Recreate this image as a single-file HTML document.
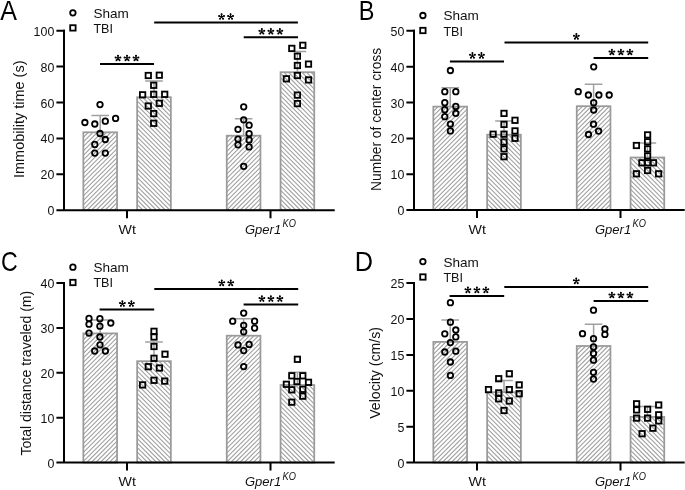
<!DOCTYPE html><html><head><meta charset="utf-8"><style>html,body{margin:0;padding:0;background:#fff;}svg{display:block;will-change:transform;}</style></head><body>
<svg width="685" height="490" viewBox="0 0 685 490" font-family='"Liberation Sans", sans-serif'>
<rect width="685" height="490" fill="#fff"/>
<clipPath id="c1"><rect x="83.35" y="132.3" width="33.7" height="77.9"/></clipPath>
<rect x="83.35" y="132.3" width="33.7" height="77.9" fill="#fff"/>
<path clip-path="url(#c1)" d="M-0.45 212.2L81.45 130.3M4.05 212.2L85.95 130.3M8.55 212.2L90.45 130.3M13.05 212.2L94.95 130.3M17.55 212.2L99.45 130.3M22.05 212.2L103.95 130.3M26.55 212.2L108.45 130.3M31.05 212.2L112.95 130.3M35.55 212.2L117.45 130.3M40.05 212.2L121.95 130.3M44.55 212.2L126.45 130.3M49.05 212.2L130.95 130.3M53.55 212.2L135.45 130.3M58.05 212.2L139.95 130.3M62.55 212.2L144.45 130.3M67.05 212.2L148.95 130.3M71.55 212.2L153.45 130.3M76.05 212.2L157.95 130.3M80.55 212.2L162.45 130.3M85.05 212.2L166.95 130.3M89.55 212.2L171.45 130.3M94.05 212.2L175.95 130.3M98.55 212.2L180.45 130.3M103.05 212.2L184.95 130.3M107.55 212.2L189.45 130.3M112.05 212.2L193.95 130.3M116.55 212.2L198.45 130.3" stroke="#a0a0a0" stroke-width="1.2" fill="none"/>
<rect x="83.35" y="132.3" width="33.7" height="77.9" fill="none" stroke="#9a9a9a" stroke-width="1.75"/>
<path d="M100.2 132.3L100.2 115.5M91.4 115.5L109 115.5" stroke="#a0a0a0" stroke-width="1.5" fill="none"/>
<clipPath id="c2"><rect x="137.15" y="97.2" width="33.7" height="113"/></clipPath>
<rect x="137.15" y="97.2" width="33.7" height="113" fill="#fff"/>
<path clip-path="url(#c2)" d="M18.95 95.2L135.95 212.2M23.45 95.2L140.45 212.2M27.95 95.2L144.95 212.2M32.45 95.2L149.45 212.2M36.95 95.2L153.95 212.2M41.45 95.2L158.45 212.2M45.95 95.2L162.95 212.2M50.45 95.2L167.45 212.2M54.95 95.2L171.95 212.2M59.45 95.2L176.45 212.2M63.95 95.2L180.95 212.2M68.45 95.2L185.45 212.2M72.95 95.2L189.95 212.2M77.45 95.2L194.45 212.2M81.95 95.2L198.95 212.2M86.45 95.2L203.45 212.2M90.95 95.2L207.95 212.2M95.45 95.2L212.45 212.2M99.95 95.2L216.95 212.2M104.45 95.2L221.45 212.2M108.95 95.2L225.95 212.2M113.45 95.2L230.45 212.2M117.95 95.2L234.95 212.2M122.45 95.2L239.45 212.2M126.95 95.2L243.95 212.2M131.45 95.2L248.45 212.2M135.95 95.2L252.95 212.2M140.45 95.2L257.45 212.2M144.95 95.2L261.95 212.2M149.45 95.2L266.45 212.2M153.95 95.2L270.95 212.2M158.45 95.2L275.45 212.2M162.95 95.2L279.95 212.2M167.45 95.2L284.45 212.2M171.95 95.2L288.95 212.2" stroke="#a0a0a0" stroke-width="1.2" fill="none"/>
<rect x="137.15" y="97.2" width="33.7" height="113" fill="none" stroke="#9a9a9a" stroke-width="1.75"/>
<path d="M154 97.2L154 80.9M145.2 80.9L162.8 80.9" stroke="#a0a0a0" stroke-width="1.5" fill="none"/>
<clipPath id="c3"><rect x="226.75" y="135.7" width="33.7" height="74.5"/></clipPath>
<rect x="226.75" y="135.7" width="33.7" height="74.5" fill="#fff"/>
<path clip-path="url(#c3)" d="M148.05 212.2L226.55 133.7M152.55 212.2L231.05 133.7M157.05 212.2L235.55 133.7M161.55 212.2L240.05 133.7M166.05 212.2L244.55 133.7M170.55 212.2L249.05 133.7M175.05 212.2L253.55 133.7M179.55 212.2L258.05 133.7M184.05 212.2L262.55 133.7M188.55 212.2L267.05 133.7M193.05 212.2L271.55 133.7M197.55 212.2L276.05 133.7M202.05 212.2L280.55 133.7M206.55 212.2L285.05 133.7M211.05 212.2L289.55 133.7M215.55 212.2L294.05 133.7M220.05 212.2L298.55 133.7M224.55 212.2L303.05 133.7M229.05 212.2L307.55 133.7M233.55 212.2L312.05 133.7M238.05 212.2L316.55 133.7M242.55 212.2L321.05 133.7M247.05 212.2L325.55 133.7M251.55 212.2L330.05 133.7M256.05 212.2L334.55 133.7M260.55 212.2L339.05 133.7" stroke="#a0a0a0" stroke-width="1.2" fill="none"/>
<rect x="226.75" y="135.7" width="33.7" height="74.5" fill="none" stroke="#9a9a9a" stroke-width="1.75"/>
<path d="M243.6 135.7L243.6 118.7M234.8 118.7L252.4 118.7" stroke="#a0a0a0" stroke-width="1.5" fill="none"/>
<clipPath id="c4"><rect x="280.55" y="72.2" width="33.7" height="138"/></clipPath>
<rect x="280.55" y="72.2" width="33.7" height="138" fill="#fff"/>
<path clip-path="url(#c4)" d="M137.95 70.2L279.95 212.2M142.45 70.2L284.45 212.2M146.95 70.2L288.95 212.2M151.45 70.2L293.45 212.2M155.95 70.2L297.95 212.2M160.45 70.2L302.45 212.2M164.95 70.2L306.95 212.2M169.45 70.2L311.45 212.2M173.95 70.2L315.95 212.2M178.45 70.2L320.45 212.2M182.95 70.2L324.95 212.2M187.45 70.2L329.45 212.2M191.95 70.2L333.95 212.2M196.45 70.2L338.45 212.2M200.95 70.2L342.95 212.2M205.45 70.2L347.45 212.2M209.95 70.2L351.95 212.2M214.45 70.2L356.45 212.2M218.95 70.2L360.95 212.2M223.45 70.2L365.45 212.2M227.95 70.2L369.95 212.2M232.45 70.2L374.45 212.2M236.95 70.2L378.95 212.2M241.45 70.2L383.45 212.2M245.95 70.2L387.95 212.2M250.45 70.2L392.45 212.2M254.95 70.2L396.95 212.2M259.45 70.2L401.45 212.2M263.95 70.2L405.95 212.2M268.45 70.2L410.45 212.2M272.95 70.2L414.95 212.2M277.45 70.2L419.45 212.2M281.95 70.2L423.95 212.2M286.45 70.2L428.45 212.2M290.95 70.2L432.95 212.2M295.45 70.2L437.45 212.2M299.95 70.2L441.95 212.2M304.45 70.2L446.45 212.2M308.95 70.2L450.95 212.2M313.45 70.2L455.45 212.2" stroke="#a0a0a0" stroke-width="1.2" fill="none"/>
<rect x="280.55" y="72.2" width="33.7" height="138" fill="none" stroke="#9a9a9a" stroke-width="1.75"/>
<path d="M297.4 72.2L297.4 51.5M288.6 51.5L306.2 51.5" stroke="#a0a0a0" stroke-width="1.5" fill="none"/>
<path d="M64 29.7L64 210.2" stroke="#000" stroke-width="2" fill="none"/>
<path d="M56.4 210.2L334.7 210.2" stroke="#000" stroke-width="2" fill="none"/>
<path d="M56.4 174.3L65 174.3M56.4 138.4L65 138.4M56.4 102.5L65 102.5M56.4 66.6L65 66.6M56.4 30.7L65 30.7M127 210.2L127 218.2M270.5 210.2L270.5 218.2" stroke="#000" stroke-width="2" fill="none"/>
<text x="54.3" y="215.2" font-size="12.4" text-anchor="end" fill="#111">0</text>
<text x="54.3" y="179.3" font-size="12.4" text-anchor="end" fill="#111">20</text>
<text x="54.3" y="143.4" font-size="12.4" text-anchor="end" fill="#111">40</text>
<text x="54.3" y="107.5" font-size="12.4" text-anchor="end" fill="#111">60</text>
<text x="54.3" y="71.6" font-size="12.4" text-anchor="end" fill="#111">80</text>
<text x="54.3" y="35.7" font-size="12.4" text-anchor="end" fill="#111">100</text>
<text x="127.3" y="233.7" font-size="13" text-anchor="middle" textLength="17.4" lengthAdjust="spacingAndGlyphs" fill="#111">Wt</text>
<text x="245" y="233.7" font-size="13" font-style="italic" fill="#111">Gper1</text>
<text x="282.5" y="227.3" font-size="10" font-style="italic" textLength="13.4" lengthAdjust="spacingAndGlyphs" fill="#111">KO</text>
<circle cx="100" cy="104.6" r="2.75" fill="none" stroke="#000" stroke-width="1.8"/>
<circle cx="84.9" cy="122.5" r="2.75" fill="none" stroke="#000" stroke-width="1.8"/>
<circle cx="94.8" cy="124" r="2.75" fill="none" stroke="#000" stroke-width="1.8"/>
<circle cx="105.3" cy="121.2" r="2.75" fill="none" stroke="#000" stroke-width="1.8"/>
<circle cx="115.6" cy="118.4" r="2.75" fill="none" stroke="#000" stroke-width="1.8"/>
<circle cx="100" cy="133.5" r="2.75" fill="none" stroke="#000" stroke-width="1.8"/>
<circle cx="105.3" cy="139.5" r="2.75" fill="none" stroke="#000" stroke-width="1.8"/>
<circle cx="94.8" cy="144.4" r="2.75" fill="none" stroke="#000" stroke-width="1.8"/>
<circle cx="94.8" cy="153.1" r="2.75" fill="none" stroke="#000" stroke-width="1.8"/>
<circle cx="105.3" cy="153.1" r="2.75" fill="none" stroke="#000" stroke-width="1.8"/>
<rect x="145.6" y="72.8" width="5.4" height="5.4" fill="none" stroke="#000" stroke-width="1.8"/>
<rect x="156.6" y="72.5" width="5.4" height="5.4" fill="none" stroke="#000" stroke-width="1.8"/>
<rect x="151" y="82.6" width="5.4" height="5.4" fill="none" stroke="#000" stroke-width="1.8"/>
<rect x="139.9" y="92.1" width="5.4" height="5.4" fill="none" stroke="#000" stroke-width="1.8"/>
<rect x="151" y="91.6" width="5.4" height="5.4" fill="none" stroke="#000" stroke-width="1.8"/>
<rect x="162" y="91.6" width="5.4" height="5.4" fill="none" stroke="#000" stroke-width="1.8"/>
<rect x="145.6" y="103.3" width="5.4" height="5.4" fill="none" stroke="#000" stroke-width="1.8"/>
<rect x="156.6" y="100.6" width="5.4" height="5.4" fill="none" stroke="#000" stroke-width="1.8"/>
<rect x="151" y="110.9" width="5.4" height="5.4" fill="none" stroke="#000" stroke-width="1.8"/>
<rect x="151" y="120.6" width="5.4" height="5.4" fill="none" stroke="#000" stroke-width="1.8"/>
<circle cx="243.7" cy="106.8" r="2.75" fill="none" stroke="#000" stroke-width="1.8"/>
<circle cx="243.7" cy="119.8" r="2.75" fill="none" stroke="#000" stroke-width="1.8"/>
<circle cx="249.1" cy="125.2" r="2.75" fill="none" stroke="#000" stroke-width="1.8"/>
<circle cx="238" cy="129.3" r="2.75" fill="none" stroke="#000" stroke-width="1.8"/>
<circle cx="249.1" cy="133.7" r="2.75" fill="none" stroke="#000" stroke-width="1.8"/>
<circle cx="238" cy="139.1" r="2.75" fill="none" stroke="#000" stroke-width="1.8"/>
<circle cx="249.1" cy="139.9" r="2.75" fill="none" stroke="#000" stroke-width="1.8"/>
<circle cx="238" cy="144.8" r="2.75" fill="none" stroke="#000" stroke-width="1.8"/>
<circle cx="249.1" cy="146.9" r="2.75" fill="none" stroke="#000" stroke-width="1.8"/>
<circle cx="243.7" cy="166.3" r="2.75" fill="none" stroke="#000" stroke-width="1.8"/>
<rect x="289.1" y="45.7" width="5.4" height="5.4" fill="none" stroke="#000" stroke-width="1.8"/>
<rect x="300.1" y="42.6" width="5.4" height="5.4" fill="none" stroke="#000" stroke-width="1.8"/>
<rect x="294.7" y="53.5" width="5.4" height="5.4" fill="none" stroke="#000" stroke-width="1.8"/>
<rect x="294.7" y="62.8" width="5.4" height="5.4" fill="none" stroke="#000" stroke-width="1.8"/>
<rect x="305.8" y="61.4" width="5.4" height="5.4" fill="none" stroke="#000" stroke-width="1.8"/>
<rect x="283.7" y="76.1" width="5.4" height="5.4" fill="none" stroke="#000" stroke-width="1.8"/>
<rect x="294.7" y="72.8" width="5.4" height="5.4" fill="none" stroke="#000" stroke-width="1.8"/>
<rect x="305.8" y="77.2" width="5.4" height="5.4" fill="none" stroke="#000" stroke-width="1.8"/>
<rect x="294.7" y="92.4" width="5.4" height="5.4" fill="none" stroke="#000" stroke-width="1.8"/>
<rect x="294.7" y="100.9" width="5.4" height="5.4" fill="none" stroke="#000" stroke-width="1.8"/>
<path d="M100 64L154 64" stroke="#000" stroke-width="2" fill="none"/>
<path d="M118 58.2L118 55.65M118 58.2L120.43 57.41M118 58.2L119.5 60.26M118 58.2L116.5 60.26M118 58.2L115.57 57.41" stroke="#000" stroke-width="1.1" stroke-linecap="round" fill="none"/><circle cx="118" cy="55.65" r="1.0"/><circle cx="120.43" cy="57.41" r="1.0"/><circle cx="119.5" cy="60.26" r="1.0"/><circle cx="116.5" cy="60.26" r="1.0"/><circle cx="115.57" cy="57.41" r="1.0"/>
<path d="M127 58.2L127 55.65M127 58.2L129.43 57.41M127 58.2L128.5 60.26M127 58.2L125.5 60.26M127 58.2L124.57 57.41" stroke="#000" stroke-width="1.1" stroke-linecap="round" fill="none"/><circle cx="127" cy="55.65" r="1.0"/><circle cx="129.43" cy="57.41" r="1.0"/><circle cx="128.5" cy="60.26" r="1.0"/><circle cx="125.5" cy="60.26" r="1.0"/><circle cx="124.57" cy="57.41" r="1.0"/>
<path d="M136 58.2L136 55.65M136 58.2L138.43 57.41M136 58.2L137.5 60.26M136 58.2L134.5 60.26M136 58.2L133.57 57.41" stroke="#000" stroke-width="1.1" stroke-linecap="round" fill="none"/><circle cx="136" cy="55.65" r="1.0"/><circle cx="138.43" cy="57.41" r="1.0"/><circle cx="137.5" cy="60.26" r="1.0"/><circle cx="134.5" cy="60.26" r="1.0"/><circle cx="133.57" cy="57.41" r="1.0"/>
<path d="M154.2 22.5L297.9 22.5" stroke="#000" stroke-width="2" fill="none"/>
<path d="M221.55 16.7L221.55 14.15M221.55 16.7L223.98 15.91M221.55 16.7L223.05 18.76M221.55 16.7L220.05 18.76M221.55 16.7L219.12 15.91" stroke="#000" stroke-width="1.1" stroke-linecap="round" fill="none"/><circle cx="221.55" cy="14.15" r="1.0"/><circle cx="223.98" cy="15.91" r="1.0"/><circle cx="223.05" cy="18.76" r="1.0"/><circle cx="220.05" cy="18.76" r="1.0"/><circle cx="219.12" cy="15.91" r="1.0"/>
<path d="M230.55 16.7L230.55 14.15M230.55 16.7L232.98 15.91M230.55 16.7L232.05 18.76M230.55 16.7L229.05 18.76M230.55 16.7L228.12 15.91" stroke="#000" stroke-width="1.1" stroke-linecap="round" fill="none"/><circle cx="230.55" cy="14.15" r="1.0"/><circle cx="232.98" cy="15.91" r="1.0"/><circle cx="232.05" cy="18.76" r="1.0"/><circle cx="229.05" cy="18.76" r="1.0"/><circle cx="228.12" cy="15.91" r="1.0"/>
<path d="M243.7 37.3L298 37.3" stroke="#000" stroke-width="2" fill="none"/>
<path d="M261.85 31.5L261.85 28.95M261.85 31.5L264.28 30.71M261.85 31.5L263.35 33.56M261.85 31.5L260.35 33.56M261.85 31.5L259.42 30.71" stroke="#000" stroke-width="1.1" stroke-linecap="round" fill="none"/><circle cx="261.85" cy="28.95" r="1.0"/><circle cx="264.28" cy="30.71" r="1.0"/><circle cx="263.35" cy="33.56" r="1.0"/><circle cx="260.35" cy="33.56" r="1.0"/><circle cx="259.42" cy="30.71" r="1.0"/>
<path d="M270.85 31.5L270.85 28.95M270.85 31.5L273.28 30.71M270.85 31.5L272.35 33.56M270.85 31.5L269.35 33.56M270.85 31.5L268.42 30.71" stroke="#000" stroke-width="1.1" stroke-linecap="round" fill="none"/><circle cx="270.85" cy="28.95" r="1.0"/><circle cx="273.28" cy="30.71" r="1.0"/><circle cx="272.35" cy="33.56" r="1.0"/><circle cx="269.35" cy="33.56" r="1.0"/><circle cx="268.42" cy="30.71" r="1.0"/>
<path d="M279.85 31.5L279.85 28.95M279.85 31.5L282.28 30.71M279.85 31.5L281.35 33.56M279.85 31.5L278.35 33.56M279.85 31.5L277.42 30.71" stroke="#000" stroke-width="1.1" stroke-linecap="round" fill="none"/><circle cx="279.85" cy="28.95" r="1.0"/><circle cx="282.28" cy="30.71" r="1.0"/><circle cx="281.35" cy="33.56" r="1.0"/><circle cx="278.35" cy="33.56" r="1.0"/><circle cx="277.42" cy="30.71" r="1.0"/>
<circle cx="72.9" cy="12.8" r="2.75" fill="none" stroke="#000" stroke-width="1.8"/>
<rect x="70.2" y="25.2" width="5.4" height="5.4" fill="none" stroke="#000" stroke-width="1.8"/>
<text x="93.4" y="17.9" font-size="13.2" textLength="35.4" lengthAdjust="spacingAndGlyphs" fill="#111">Sham</text>
<text x="93.4" y="33.2" font-size="13.2" textLength="19.6" lengthAdjust="spacingAndGlyphs" fill="#111">TBI</text>
<text transform="translate(0.3 19.6) scale(0.895 1)" font-size="28" fill="#000">A</text>
<text transform="translate(23.6 119.25) rotate(-90)" x="0" y="0" font-size="14" text-anchor="middle" textLength="117.5" lengthAdjust="spacingAndGlyphs" fill="#111">Immobility time (s)</text>
<clipPath id="c5"><rect x="433.35" y="106.6" width="33.7" height="103.5"/></clipPath>
<rect x="433.35" y="106.6" width="33.7" height="103.5" fill="#fff"/>
<path clip-path="url(#c5)" d="M323.65 212.1L431.15 104.6M328.15 212.1L435.65 104.6M332.65 212.1L440.15 104.6M337.15 212.1L444.65 104.6M341.65 212.1L449.15 104.6M346.15 212.1L453.65 104.6M350.65 212.1L458.15 104.6M355.15 212.1L462.65 104.6M359.65 212.1L467.15 104.6M364.15 212.1L471.65 104.6M368.65 212.1L476.15 104.6M373.15 212.1L480.65 104.6M377.65 212.1L485.15 104.6M382.15 212.1L489.65 104.6M386.65 212.1L494.15 104.6M391.15 212.1L498.65 104.6M395.65 212.1L503.15 104.6M400.15 212.1L507.65 104.6M404.65 212.1L512.15 104.6M409.15 212.1L516.65 104.6M413.65 212.1L521.15 104.6M418.15 212.1L525.65 104.6M422.65 212.1L530.15 104.6M427.15 212.1L534.65 104.6M431.65 212.1L539.15 104.6M436.15 212.1L543.65 104.6M440.65 212.1L548.15 104.6M445.15 212.1L552.65 104.6M449.65 212.1L557.15 104.6M454.15 212.1L561.65 104.6M458.65 212.1L566.15 104.6M463.15 212.1L570.65 104.6M467.65 212.1L575.15 104.6" stroke="#a0a0a0" stroke-width="1.2" fill="none"/>
<rect x="433.35" y="106.6" width="33.7" height="103.5" fill="none" stroke="#9a9a9a" stroke-width="1.75"/>
<path d="M450.2 106.6L450.2 87.7M441.4 87.7L459 87.7" stroke="#a0a0a0" stroke-width="1.5" fill="none"/>
<clipPath id="c6"><rect x="487.15" y="134.7" width="33.7" height="75.4"/></clipPath>
<rect x="487.15" y="134.7" width="33.7" height="75.4" fill="#fff"/>
<path clip-path="url(#c6)" d="M407.45 132.7L486.85 212.1M411.95 132.7L491.35 212.1M416.45 132.7L495.85 212.1M420.95 132.7L500.35 212.1M425.45 132.7L504.85 212.1M429.95 132.7L509.35 212.1M434.45 132.7L513.85 212.1M438.95 132.7L518.35 212.1M443.45 132.7L522.85 212.1M447.95 132.7L527.35 212.1M452.45 132.7L531.85 212.1M456.95 132.7L536.35 212.1M461.45 132.7L540.85 212.1M465.95 132.7L545.35 212.1M470.45 132.7L549.85 212.1M474.95 132.7L554.35 212.1M479.45 132.7L558.85 212.1M483.95 132.7L563.35 212.1M488.45 132.7L567.85 212.1M492.95 132.7L572.35 212.1M497.45 132.7L576.85 212.1M501.95 132.7L581.35 212.1M506.45 132.7L585.85 212.1M510.95 132.7L590.35 212.1M515.45 132.7L594.85 212.1M519.95 132.7L599.35 212.1" stroke="#a0a0a0" stroke-width="1.2" fill="none"/>
<rect x="487.15" y="134.7" width="33.7" height="75.4" fill="none" stroke="#9a9a9a" stroke-width="1.75"/>
<path d="M504 134.7L504 121.1M495.2 121.1L512.8 121.1" stroke="#a0a0a0" stroke-width="1.5" fill="none"/>
<clipPath id="c7"><rect x="576.75" y="106.2" width="33.7" height="103.9"/></clipPath>
<rect x="576.75" y="106.2" width="33.7" height="103.9" fill="#fff"/>
<path clip-path="url(#c7)" d="M467.65 212.1L575.55 104.2M472.15 212.1L580.05 104.2M476.65 212.1L584.55 104.2M481.15 212.1L589.05 104.2M485.65 212.1L593.55 104.2M490.15 212.1L598.05 104.2M494.65 212.1L602.55 104.2M499.15 212.1L607.05 104.2M503.65 212.1L611.55 104.2M508.15 212.1L616.05 104.2M512.65 212.1L620.55 104.2M517.15 212.1L625.05 104.2M521.65 212.1L629.55 104.2M526.15 212.1L634.05 104.2M530.65 212.1L638.55 104.2M535.15 212.1L643.05 104.2M539.65 212.1L647.55 104.2M544.15 212.1L652.05 104.2M548.65 212.1L656.55 104.2M553.15 212.1L661.05 104.2M557.65 212.1L665.55 104.2M562.15 212.1L670.05 104.2M566.65 212.1L674.55 104.2M571.15 212.1L679.05 104.2M575.65 212.1L683.55 104.2M580.15 212.1L688.05 104.2M584.65 212.1L692.55 104.2M589.15 212.1L697.05 104.2M593.65 212.1L701.55 104.2M598.15 212.1L706.05 104.2M602.65 212.1L710.55 104.2M607.15 212.1L715.05 104.2M611.65 212.1L719.55 104.2" stroke="#a0a0a0" stroke-width="1.2" fill="none"/>
<rect x="576.75" y="106.2" width="33.7" height="103.9" fill="none" stroke="#9a9a9a" stroke-width="1.75"/>
<path d="M593.6 106.2L593.6 84.3M584.8 84.3L602.4 84.3" stroke="#a0a0a0" stroke-width="1.5" fill="none"/>
<clipPath id="c8"><rect x="630.55" y="157.5" width="33.7" height="52.6"/></clipPath>
<rect x="630.55" y="157.5" width="33.7" height="52.6" fill="#fff"/>
<path clip-path="url(#c8)" d="M574.25 155.5L630.85 212.1M578.75 155.5L635.35 212.1M583.25 155.5L639.85 212.1M587.75 155.5L644.35 212.1M592.25 155.5L648.85 212.1M596.75 155.5L653.35 212.1M601.25 155.5L657.85 212.1M605.75 155.5L662.35 212.1M610.25 155.5L666.85 212.1M614.75 155.5L671.35 212.1M619.25 155.5L675.85 212.1M623.75 155.5L680.35 212.1M628.25 155.5L684.85 212.1M632.75 155.5L689.35 212.1M637.25 155.5L693.85 212.1M641.75 155.5L698.35 212.1M646.25 155.5L702.85 212.1M650.75 155.5L707.35 212.1M655.25 155.5L711.85 212.1M659.75 155.5L716.35 212.1M664.25 155.5L720.85 212.1" stroke="#a0a0a0" stroke-width="1.2" fill="none"/>
<rect x="630.55" y="157.5" width="33.7" height="52.6" fill="none" stroke="#9a9a9a" stroke-width="1.75"/>
<path d="M647.4 157.5L647.4 143M638.6 143L656.2 143" stroke="#a0a0a0" stroke-width="1.5" fill="none"/>
<path d="M414 29.8L414 210.1" stroke="#000" stroke-width="2" fill="none"/>
<path d="M406.4 210.1L684.7 210.1" stroke="#000" stroke-width="2" fill="none"/>
<path d="M406.4 174.24L415 174.24M406.4 138.38L415 138.38M406.4 102.52L415 102.52M406.4 66.66L415 66.66M406.4 30.8L415 30.8M477 210.1L477 218.1M620.5 210.1L620.5 218.1" stroke="#000" stroke-width="2" fill="none"/>
<text x="404.3" y="215.1" font-size="12.4" text-anchor="end" fill="#111">0</text>
<text x="404.3" y="179.24" font-size="12.4" text-anchor="end" fill="#111">10</text>
<text x="404.3" y="143.38" font-size="12.4" text-anchor="end" fill="#111">20</text>
<text x="404.3" y="107.52" font-size="12.4" text-anchor="end" fill="#111">30</text>
<text x="404.3" y="71.66" font-size="12.4" text-anchor="end" fill="#111">40</text>
<text x="404.3" y="35.8" font-size="12.4" text-anchor="end" fill="#111">50</text>
<text x="477.3" y="233.6" font-size="13" text-anchor="middle" textLength="17.4" lengthAdjust="spacingAndGlyphs" fill="#111">Wt</text>
<text x="595" y="233.6" font-size="13" font-style="italic" fill="#111">Gper1</text>
<text x="632.5" y="227.2" font-size="10" font-style="italic" textLength="13.4" lengthAdjust="spacingAndGlyphs" fill="#111">KO</text>
<circle cx="450.4" cy="70.5" r="2.75" fill="none" stroke="#000" stroke-width="1.8"/>
<circle cx="444.8" cy="91.7" r="2.75" fill="none" stroke="#000" stroke-width="1.8"/>
<circle cx="455.8" cy="91.7" r="2.75" fill="none" stroke="#000" stroke-width="1.8"/>
<circle cx="444.8" cy="102.7" r="2.75" fill="none" stroke="#000" stroke-width="1.8"/>
<circle cx="444.8" cy="109.7" r="2.75" fill="none" stroke="#000" stroke-width="1.8"/>
<circle cx="455.8" cy="106.4" r="2.75" fill="none" stroke="#000" stroke-width="1.8"/>
<circle cx="455.8" cy="113.3" r="2.75" fill="none" stroke="#000" stroke-width="1.8"/>
<circle cx="444.8" cy="116.7" r="2.75" fill="none" stroke="#000" stroke-width="1.8"/>
<circle cx="450.4" cy="124.1" r="2.75" fill="none" stroke="#000" stroke-width="1.8"/>
<circle cx="450.4" cy="130.9" r="2.75" fill="none" stroke="#000" stroke-width="1.8"/>
<rect x="501.3" y="110.7" width="5.4" height="5.4" fill="none" stroke="#000" stroke-width="1.8"/>
<rect x="512.3" y="117.6" width="5.4" height="5.4" fill="none" stroke="#000" stroke-width="1.8"/>
<rect x="501.3" y="121.7" width="5.4" height="5.4" fill="none" stroke="#000" stroke-width="1.8"/>
<rect x="512.3" y="128.2" width="5.4" height="5.4" fill="none" stroke="#000" stroke-width="1.8"/>
<rect x="490.4" y="131.5" width="5.4" height="5.4" fill="none" stroke="#000" stroke-width="1.8"/>
<rect x="501.3" y="131.5" width="5.4" height="5.4" fill="none" stroke="#000" stroke-width="1.8"/>
<rect x="512.3" y="135.6" width="5.4" height="5.4" fill="none" stroke="#000" stroke-width="1.8"/>
<rect x="501.3" y="139.3" width="5.4" height="5.4" fill="none" stroke="#000" stroke-width="1.8"/>
<rect x="501.3" y="146.2" width="5.4" height="5.4" fill="none" stroke="#000" stroke-width="1.8"/>
<rect x="501.3" y="154" width="5.4" height="5.4" fill="none" stroke="#000" stroke-width="1.8"/>
<circle cx="593.7" cy="66.8" r="2.75" fill="none" stroke="#000" stroke-width="1.8"/>
<circle cx="578.2" cy="91.7" r="2.75" fill="none" stroke="#000" stroke-width="1.8"/>
<circle cx="588.4" cy="95" r="2.75" fill="none" stroke="#000" stroke-width="1.8"/>
<circle cx="598.9" cy="95" r="2.75" fill="none" stroke="#000" stroke-width="1.8"/>
<circle cx="609.2" cy="95" r="2.75" fill="none" stroke="#000" stroke-width="1.8"/>
<circle cx="593.7" cy="102.7" r="2.75" fill="none" stroke="#000" stroke-width="1.8"/>
<circle cx="593.7" cy="110" r="2.75" fill="none" stroke="#000" stroke-width="1.8"/>
<circle cx="593.5" cy="124.2" r="2.75" fill="none" stroke="#000" stroke-width="1.8"/>
<circle cx="598.6" cy="131.1" r="2.75" fill="none" stroke="#000" stroke-width="1.8"/>
<circle cx="588.5" cy="134.5" r="2.75" fill="none" stroke="#000" stroke-width="1.8"/>
<rect x="644.9" y="132.2" width="5.4" height="5.4" fill="none" stroke="#000" stroke-width="1.8"/>
<rect x="644.9" y="139.1" width="5.4" height="5.4" fill="none" stroke="#000" stroke-width="1.8"/>
<rect x="633.7" y="142.8" width="5.4" height="5.4" fill="none" stroke="#000" stroke-width="1.8"/>
<rect x="644.9" y="146.2" width="5.4" height="5.4" fill="none" stroke="#000" stroke-width="1.8"/>
<rect x="644.9" y="153.2" width="5.4" height="5.4" fill="none" stroke="#000" stroke-width="1.8"/>
<rect x="639.2" y="160.1" width="5.4" height="5.4" fill="none" stroke="#000" stroke-width="1.8"/>
<rect x="644.9" y="160.1" width="5.4" height="5.4" fill="none" stroke="#000" stroke-width="1.8"/>
<rect x="650.8" y="160.1" width="5.4" height="5.4" fill="none" stroke="#000" stroke-width="1.8"/>
<rect x="644.9" y="167.8" width="5.4" height="5.4" fill="none" stroke="#000" stroke-width="1.8"/>
<rect x="633.7" y="171.1" width="5.4" height="5.4" fill="none" stroke="#000" stroke-width="1.8"/>
<rect x="655.9" y="171.1" width="5.4" height="5.4" fill="none" stroke="#000" stroke-width="1.8"/>
<path d="M449.9 61.4L504 61.4" stroke="#000" stroke-width="2" fill="none"/>
<path d="M472.45 55.6L472.45 53.05M472.45 55.6L474.88 54.81M472.45 55.6L473.95 57.66M472.45 55.6L470.95 57.66M472.45 55.6L470.02 54.81" stroke="#000" stroke-width="1.1" stroke-linecap="round" fill="none"/><circle cx="472.45" cy="53.05" r="1.0"/><circle cx="474.88" cy="54.81" r="1.0"/><circle cx="473.95" cy="57.66" r="1.0"/><circle cx="470.95" cy="57.66" r="1.0"/><circle cx="470.02" cy="54.81" r="1.0"/>
<path d="M481.45 55.6L481.45 53.05M481.45 55.6L483.88 54.81M481.45 55.6L482.95 57.66M481.45 55.6L479.95 57.66M481.45 55.6L479.02 54.81" stroke="#000" stroke-width="1.1" stroke-linecap="round" fill="none"/><circle cx="481.45" cy="53.05" r="1.0"/><circle cx="483.88" cy="54.81" r="1.0"/><circle cx="482.95" cy="57.66" r="1.0"/><circle cx="479.95" cy="57.66" r="1.0"/><circle cx="479.02" cy="54.81" r="1.0"/>
<path d="M504.5 42.4L648.2 42.4" stroke="#000" stroke-width="2" fill="none"/>
<path d="M576.35 36.6L576.35 34.05M576.35 36.6L578.78 35.81M576.35 36.6L577.85 38.66M576.35 36.6L574.85 38.66M576.35 36.6L573.92 35.81" stroke="#000" stroke-width="1.1" stroke-linecap="round" fill="none"/><circle cx="576.35" cy="34.05" r="1.0"/><circle cx="578.78" cy="35.81" r="1.0"/><circle cx="577.85" cy="38.66" r="1.0"/><circle cx="574.85" cy="38.66" r="1.0"/><circle cx="573.92" cy="35.81" r="1.0"/>
<path d="M593.6 58L648.2 58" stroke="#000" stroke-width="2" fill="none"/>
<path d="M611.9 52.2L611.9 49.65M611.9 52.2L614.33 51.41M611.9 52.2L613.4 54.26M611.9 52.2L610.4 54.26M611.9 52.2L609.47 51.41" stroke="#000" stroke-width="1.1" stroke-linecap="round" fill="none"/><circle cx="611.9" cy="49.65" r="1.0"/><circle cx="614.33" cy="51.41" r="1.0"/><circle cx="613.4" cy="54.26" r="1.0"/><circle cx="610.4" cy="54.26" r="1.0"/><circle cx="609.47" cy="51.41" r="1.0"/>
<path d="M620.9 52.2L620.9 49.65M620.9 52.2L623.33 51.41M620.9 52.2L622.4 54.26M620.9 52.2L619.4 54.26M620.9 52.2L618.47 51.41" stroke="#000" stroke-width="1.1" stroke-linecap="round" fill="none"/><circle cx="620.9" cy="49.65" r="1.0"/><circle cx="623.33" cy="51.41" r="1.0"/><circle cx="622.4" cy="54.26" r="1.0"/><circle cx="619.4" cy="54.26" r="1.0"/><circle cx="618.47" cy="51.41" r="1.0"/>
<path d="M629.9 52.2L629.9 49.65M629.9 52.2L632.33 51.41M629.9 52.2L631.4 54.26M629.9 52.2L628.4 54.26M629.9 52.2L627.47 51.41" stroke="#000" stroke-width="1.1" stroke-linecap="round" fill="none"/><circle cx="629.9" cy="49.65" r="1.0"/><circle cx="632.33" cy="51.41" r="1.0"/><circle cx="631.4" cy="54.26" r="1.0"/><circle cx="628.4" cy="54.26" r="1.0"/><circle cx="627.47" cy="51.41" r="1.0"/>
<circle cx="422.9" cy="15.5" r="2.75" fill="none" stroke="#000" stroke-width="1.8"/>
<rect x="420.2" y="27.8" width="5.4" height="5.4" fill="none" stroke="#000" stroke-width="1.8"/>
<text x="443.4" y="20.4" font-size="13.2" textLength="35.4" lengthAdjust="spacingAndGlyphs" fill="#111">Sham</text>
<text x="443.4" y="35.8" font-size="13.2" textLength="19.6" lengthAdjust="spacingAndGlyphs" fill="#111">TBI</text>
<text transform="translate(358.8 19.6) scale(0.84 1)" font-size="28" fill="#000">B</text>
<text transform="translate(380.9 119.4) rotate(-90)" x="0" y="0" font-size="14" text-anchor="middle" textLength="143" lengthAdjust="spacingAndGlyphs" fill="#111">Number of center cross</text>
<clipPath id="c9"><rect x="83.35" y="333.4" width="33.7" height="129.2"/></clipPath>
<rect x="83.35" y="333.4" width="33.7" height="129.2" fill="#fff"/>
<path clip-path="url(#c9)" d="M-50.35 464.6L82.85 331.4M-45.85 464.6L87.35 331.4M-41.35 464.6L91.85 331.4M-36.85 464.6L96.35 331.4M-32.35 464.6L100.85 331.4M-27.85 464.6L105.35 331.4M-23.35 464.6L109.85 331.4M-18.85 464.6L114.35 331.4M-14.35 464.6L118.85 331.4M-9.85 464.6L123.35 331.4M-5.35 464.6L127.85 331.4M-0.85 464.6L132.35 331.4M3.65 464.6L136.85 331.4M8.15 464.6L141.35 331.4M12.65 464.6L145.85 331.4M17.15 464.6L150.35 331.4M21.65 464.6L154.85 331.4M26.15 464.6L159.35 331.4M30.65 464.6L163.85 331.4M35.15 464.6L168.35 331.4M39.65 464.6L172.85 331.4M44.15 464.6L177.35 331.4M48.65 464.6L181.85 331.4M53.15 464.6L186.35 331.4M57.65 464.6L190.85 331.4M62.15 464.6L195.35 331.4M66.65 464.6L199.85 331.4M71.15 464.6L204.35 331.4M75.65 464.6L208.85 331.4M80.15 464.6L213.35 331.4M84.65 464.6L217.85 331.4M89.15 464.6L222.35 331.4M93.65 464.6L226.85 331.4M98.15 464.6L231.35 331.4M102.65 464.6L235.85 331.4M107.15 464.6L240.35 331.4M111.65 464.6L244.85 331.4M116.15 464.6L249.35 331.4" stroke="#a0a0a0" stroke-width="1.2" fill="none"/>
<rect x="83.35" y="333.4" width="33.7" height="129.2" fill="none" stroke="#9a9a9a" stroke-width="1.75"/>
<path d="M100.2 333.4L100.2 319.9M91.4 319.9L109 319.9" stroke="#a0a0a0" stroke-width="1.5" fill="none"/>
<clipPath id="c10"><rect x="137.15" y="361.2" width="33.7" height="101.4"/></clipPath>
<rect x="137.15" y="361.2" width="33.7" height="101.4" fill="#fff"/>
<path clip-path="url(#c10)" d="M30.95 359.2L136.35 464.6M35.45 359.2L140.85 464.6M39.95 359.2L145.35 464.6M44.45 359.2L149.85 464.6M48.95 359.2L154.35 464.6M53.45 359.2L158.85 464.6M57.95 359.2L163.35 464.6M62.45 359.2L167.85 464.6M66.95 359.2L172.35 464.6M71.45 359.2L176.85 464.6M75.95 359.2L181.35 464.6M80.45 359.2L185.85 464.6M84.95 359.2L190.35 464.6M89.45 359.2L194.85 464.6M93.95 359.2L199.35 464.6M98.45 359.2L203.85 464.6M102.95 359.2L208.35 464.6M107.45 359.2L212.85 464.6M111.95 359.2L217.35 464.6M116.45 359.2L221.85 464.6M120.95 359.2L226.35 464.6M125.45 359.2L230.85 464.6M129.95 359.2L235.35 464.6M134.45 359.2L239.85 464.6M138.95 359.2L244.35 464.6M143.45 359.2L248.85 464.6M147.95 359.2L253.35 464.6M152.45 359.2L257.85 464.6M156.95 359.2L262.35 464.6M161.45 359.2L266.85 464.6M165.95 359.2L271.35 464.6M170.45 359.2L275.85 464.6" stroke="#a0a0a0" stroke-width="1.2" fill="none"/>
<rect x="137.15" y="361.2" width="33.7" height="101.4" fill="none" stroke="#9a9a9a" stroke-width="1.75"/>
<path d="M154 361.2L154 341.9M145.2 341.9L162.8 341.9" stroke="#a0a0a0" stroke-width="1.5" fill="none"/>
<clipPath id="c11"><rect x="226.75" y="335.7" width="33.7" height="126.9"/></clipPath>
<rect x="226.75" y="335.7" width="33.7" height="126.9" fill="#fff"/>
<path clip-path="url(#c11)" d="M93.65 464.6L224.55 333.7M98.15 464.6L229.05 333.7M102.65 464.6L233.55 333.7M107.15 464.6L238.05 333.7M111.65 464.6L242.55 333.7M116.15 464.6L247.05 333.7M120.65 464.6L251.55 333.7M125.15 464.6L256.05 333.7M129.65 464.6L260.55 333.7M134.15 464.6L265.05 333.7M138.65 464.6L269.55 333.7M143.15 464.6L274.05 333.7M147.65 464.6L278.55 333.7M152.15 464.6L283.05 333.7M156.65 464.6L287.55 333.7M161.15 464.6L292.05 333.7M165.65 464.6L296.55 333.7M170.15 464.6L301.05 333.7M174.65 464.6L305.55 333.7M179.15 464.6L310.05 333.7M183.65 464.6L314.55 333.7M188.15 464.6L319.05 333.7M192.65 464.6L323.55 333.7M197.15 464.6L328.05 333.7M201.65 464.6L332.55 333.7M206.15 464.6L337.05 333.7M210.65 464.6L341.55 333.7M215.15 464.6L346.05 333.7M219.65 464.6L350.55 333.7M224.15 464.6L355.05 333.7M228.65 464.6L359.55 333.7M233.15 464.6L364.05 333.7M237.65 464.6L368.55 333.7M242.15 464.6L373.05 333.7M246.65 464.6L377.55 333.7M251.15 464.6L382.05 333.7M255.65 464.6L386.55 333.7M260.15 464.6L391.05 333.7" stroke="#a0a0a0" stroke-width="1.2" fill="none"/>
<rect x="226.75" y="335.7" width="33.7" height="126.9" fill="none" stroke="#9a9a9a" stroke-width="1.75"/>
<path d="M243.6 335.7L243.6 318.7M234.8 318.7L252.4 318.7" stroke="#a0a0a0" stroke-width="1.5" fill="none"/>
<clipPath id="c12"><rect x="280.55" y="385" width="33.7" height="77.6"/></clipPath>
<rect x="280.55" y="385" width="33.7" height="77.6" fill="#fff"/>
<path clip-path="url(#c12)" d="M198.75 383L280.35 464.6M203.25 383L284.85 464.6M207.75 383L289.35 464.6M212.25 383L293.85 464.6M216.75 383L298.35 464.6M221.25 383L302.85 464.6M225.75 383L307.35 464.6M230.25 383L311.85 464.6M234.75 383L316.35 464.6M239.25 383L320.85 464.6M243.75 383L325.35 464.6M248.25 383L329.85 464.6M252.75 383L334.35 464.6M257.25 383L338.85 464.6M261.75 383L343.35 464.6M266.25 383L347.85 464.6M270.75 383L352.35 464.6M275.25 383L356.85 464.6M279.75 383L361.35 464.6M284.25 383L365.85 464.6M288.75 383L370.35 464.6M293.25 383L374.85 464.6M297.75 383L379.35 464.6M302.25 383L383.85 464.6M306.75 383L388.35 464.6M311.25 383L392.85 464.6M315.75 383L397.35 464.6" stroke="#a0a0a0" stroke-width="1.2" fill="none"/>
<rect x="280.55" y="385" width="33.7" height="77.6" fill="none" stroke="#9a9a9a" stroke-width="1.75"/>
<path d="M297.4 385L297.4 372.3M288.6 372.3L306.2 372.3" stroke="#a0a0a0" stroke-width="1.5" fill="none"/>
<path d="M64 282.1L64 462.6" stroke="#000" stroke-width="2" fill="none"/>
<path d="M56.4 462.6L334.7 462.6" stroke="#000" stroke-width="2" fill="none"/>
<path d="M56.4 417.73L65 417.73M56.4 372.85L65 372.85M56.4 327.98L65 327.98M56.4 283.1L65 283.1M127 462.6L127 470.6M270.5 462.6L270.5 470.6" stroke="#000" stroke-width="2" fill="none"/>
<text x="54.3" y="467.6" font-size="12.4" text-anchor="end" fill="#111">0</text>
<text x="54.3" y="422.73" font-size="12.4" text-anchor="end" fill="#111">10</text>
<text x="54.3" y="377.85" font-size="12.4" text-anchor="end" fill="#111">20</text>
<text x="54.3" y="332.98" font-size="12.4" text-anchor="end" fill="#111">30</text>
<text x="54.3" y="288.1" font-size="12.4" text-anchor="end" fill="#111">40</text>
<text x="127.3" y="486.1" font-size="13" text-anchor="middle" textLength="17.4" lengthAdjust="spacingAndGlyphs" fill="#111">Wt</text>
<text x="245" y="486.1" font-size="13" font-style="italic" fill="#111">Gper1</text>
<text x="282.5" y="479.7" font-size="10" font-style="italic" textLength="13.4" lengthAdjust="spacingAndGlyphs" fill="#111">KO</text>
<circle cx="89" cy="318.4" r="2.75" fill="none" stroke="#000" stroke-width="1.8"/>
<circle cx="99.9" cy="318.7" r="2.75" fill="none" stroke="#000" stroke-width="1.8"/>
<circle cx="89" cy="324.2" r="2.75" fill="none" stroke="#000" stroke-width="1.8"/>
<circle cx="99.9" cy="326.2" r="2.75" fill="none" stroke="#000" stroke-width="1.8"/>
<circle cx="110.8" cy="323" r="2.75" fill="none" stroke="#000" stroke-width="1.8"/>
<circle cx="89" cy="333.1" r="2.75" fill="none" stroke="#000" stroke-width="1.8"/>
<circle cx="99.9" cy="337" r="2.75" fill="none" stroke="#000" stroke-width="1.8"/>
<circle cx="100" cy="344.8" r="2.75" fill="none" stroke="#000" stroke-width="1.8"/>
<circle cx="94.7" cy="351" r="2.75" fill="none" stroke="#000" stroke-width="1.8"/>
<circle cx="105.4" cy="351" r="2.75" fill="none" stroke="#000" stroke-width="1.8"/>
<rect x="151.3" y="328.6" width="5.4" height="5.4" fill="none" stroke="#000" stroke-width="1.8"/>
<rect x="151.3" y="334.3" width="5.4" height="5.4" fill="none" stroke="#000" stroke-width="1.8"/>
<rect x="151.3" y="343.8" width="5.4" height="5.4" fill="none" stroke="#000" stroke-width="1.8"/>
<rect x="162.3" y="351.5" width="5.4" height="5.4" fill="none" stroke="#000" stroke-width="1.8"/>
<rect x="151.3" y="355.6" width="5.4" height="5.4" fill="none" stroke="#000" stroke-width="1.8"/>
<rect x="145.6" y="364" width="5.4" height="5.4" fill="none" stroke="#000" stroke-width="1.8"/>
<rect x="156.7" y="365.3" width="5.4" height="5.4" fill="none" stroke="#000" stroke-width="1.8"/>
<rect x="151.3" y="377.6" width="5.4" height="5.4" fill="none" stroke="#000" stroke-width="1.8"/>
<rect x="162" y="378.4" width="5.4" height="5.4" fill="none" stroke="#000" stroke-width="1.8"/>
<rect x="139.9" y="382.2" width="5.4" height="5.4" fill="none" stroke="#000" stroke-width="1.8"/>
<circle cx="243.7" cy="313.1" r="2.75" fill="none" stroke="#000" stroke-width="1.8"/>
<circle cx="232.7" cy="321.2" r="2.75" fill="none" stroke="#000" stroke-width="1.8"/>
<circle cx="243.7" cy="325.3" r="2.75" fill="none" stroke="#000" stroke-width="1.8"/>
<circle cx="254.6" cy="321.2" r="2.75" fill="none" stroke="#000" stroke-width="1.8"/>
<circle cx="254.6" cy="328.1" r="2.75" fill="none" stroke="#000" stroke-width="1.8"/>
<circle cx="243.7" cy="331.8" r="2.75" fill="none" stroke="#000" stroke-width="1.8"/>
<circle cx="238" cy="344.9" r="2.75" fill="none" stroke="#000" stroke-width="1.8"/>
<circle cx="249.1" cy="344.4" r="2.75" fill="none" stroke="#000" stroke-width="1.8"/>
<circle cx="243.7" cy="350.6" r="2.75" fill="none" stroke="#000" stroke-width="1.8"/>
<circle cx="243.7" cy="366.6" r="2.75" fill="none" stroke="#000" stroke-width="1.8"/>
<rect x="294.7" y="356.6" width="5.4" height="5.4" fill="none" stroke="#000" stroke-width="1.8"/>
<rect x="289.1" y="373.1" width="5.4" height="5.4" fill="none" stroke="#000" stroke-width="1.8"/>
<rect x="300.1" y="373.1" width="5.4" height="5.4" fill="none" stroke="#000" stroke-width="1.8"/>
<rect x="294.3" y="378.8" width="5.4" height="5.4" fill="none" stroke="#000" stroke-width="1.8"/>
<rect x="305.8" y="379.6" width="5.4" height="5.4" fill="none" stroke="#000" stroke-width="1.8"/>
<rect x="283.7" y="381.6" width="5.4" height="5.4" fill="none" stroke="#000" stroke-width="1.8"/>
<rect x="289.1" y="387.1" width="5.4" height="5.4" fill="none" stroke="#000" stroke-width="1.8"/>
<rect x="300.1" y="386.6" width="5.4" height="5.4" fill="none" stroke="#000" stroke-width="1.8"/>
<rect x="300.1" y="393.5" width="5.4" height="5.4" fill="none" stroke="#000" stroke-width="1.8"/>
<rect x="289.1" y="399.5" width="5.4" height="5.4" fill="none" stroke="#000" stroke-width="1.8"/>
<path d="M99.6 309.6L154.2 309.6" stroke="#000" stroke-width="2" fill="none"/>
<path d="M122.4 303.8L122.4 301.25M122.4 303.8L124.83 303.01M122.4 303.8L123.9 305.86M122.4 303.8L120.9 305.86M122.4 303.8L119.97 303.01" stroke="#000" stroke-width="1.1" stroke-linecap="round" fill="none"/><circle cx="122.4" cy="301.25" r="1.0"/><circle cx="124.83" cy="303.01" r="1.0"/><circle cx="123.9" cy="305.86" r="1.0"/><circle cx="120.9" cy="305.86" r="1.0"/><circle cx="119.97" cy="303.01" r="1.0"/>
<path d="M131.4 303.8L131.4 301.25M131.4 303.8L133.83 303.01M131.4 303.8L132.9 305.86M131.4 303.8L129.9 305.86M131.4 303.8L128.97 303.01" stroke="#000" stroke-width="1.1" stroke-linecap="round" fill="none"/><circle cx="131.4" cy="301.25" r="1.0"/><circle cx="133.83" cy="303.01" r="1.0"/><circle cx="132.9" cy="305.86" r="1.0"/><circle cx="129.9" cy="305.86" r="1.0"/><circle cx="128.97" cy="303.01" r="1.0"/>
<path d="M154.3 288.9L298.2 288.9" stroke="#000" stroke-width="2" fill="none"/>
<path d="M221.75 283.1L221.75 280.55M221.75 283.1L224.18 282.31M221.75 283.1L223.25 285.16M221.75 283.1L220.25 285.16M221.75 283.1L219.32 282.31" stroke="#000" stroke-width="1.1" stroke-linecap="round" fill="none"/><circle cx="221.75" cy="280.55" r="1.0"/><circle cx="224.18" cy="282.31" r="1.0"/><circle cx="223.25" cy="285.16" r="1.0"/><circle cx="220.25" cy="285.16" r="1.0"/><circle cx="219.32" cy="282.31" r="1.0"/>
<path d="M230.75 283.1L230.75 280.55M230.75 283.1L233.18 282.31M230.75 283.1L232.25 285.16M230.75 283.1L229.25 285.16M230.75 283.1L228.32 282.31" stroke="#000" stroke-width="1.1" stroke-linecap="round" fill="none"/><circle cx="230.75" cy="280.55" r="1.0"/><circle cx="233.18" cy="282.31" r="1.0"/><circle cx="232.25" cy="285.16" r="1.0"/><circle cx="229.25" cy="285.16" r="1.0"/><circle cx="228.32" cy="282.31" r="1.0"/>
<path d="M243.6 304.6L298.2 304.6" stroke="#000" stroke-width="2" fill="none"/>
<path d="M261.9 298.8L261.9 296.25M261.9 298.8L264.33 298.01M261.9 298.8L263.4 300.86M261.9 298.8L260.4 300.86M261.9 298.8L259.47 298.01" stroke="#000" stroke-width="1.1" stroke-linecap="round" fill="none"/><circle cx="261.9" cy="296.25" r="1.0"/><circle cx="264.33" cy="298.01" r="1.0"/><circle cx="263.4" cy="300.86" r="1.0"/><circle cx="260.4" cy="300.86" r="1.0"/><circle cx="259.47" cy="298.01" r="1.0"/>
<path d="M270.9 298.8L270.9 296.25M270.9 298.8L273.33 298.01M270.9 298.8L272.4 300.86M270.9 298.8L269.4 300.86M270.9 298.8L268.47 298.01" stroke="#000" stroke-width="1.1" stroke-linecap="round" fill="none"/><circle cx="270.9" cy="296.25" r="1.0"/><circle cx="273.33" cy="298.01" r="1.0"/><circle cx="272.4" cy="300.86" r="1.0"/><circle cx="269.4" cy="300.86" r="1.0"/><circle cx="268.47" cy="298.01" r="1.0"/>
<path d="M279.9 298.8L279.9 296.25M279.9 298.8L282.33 298.01M279.9 298.8L281.4 300.86M279.9 298.8L278.4 300.86M279.9 298.8L277.47 298.01" stroke="#000" stroke-width="1.1" stroke-linecap="round" fill="none"/><circle cx="279.9" cy="296.25" r="1.0"/><circle cx="282.33" cy="298.01" r="1.0"/><circle cx="281.4" cy="300.86" r="1.0"/><circle cx="278.4" cy="300.86" r="1.0"/><circle cx="277.47" cy="298.01" r="1.0"/>
<circle cx="72.9" cy="267.2" r="2.75" fill="none" stroke="#000" stroke-width="1.8"/>
<rect x="70.2" y="279.8" width="5.4" height="5.4" fill="none" stroke="#000" stroke-width="1.8"/>
<text x="93.4" y="272.3" font-size="13.2" textLength="35.4" lengthAdjust="spacingAndGlyphs" fill="#111">Sham</text>
<text x="93.4" y="287.3" font-size="13.2" textLength="19.6" lengthAdjust="spacingAndGlyphs" fill="#111">TBI</text>
<text transform="translate(1.1 271) scale(0.826 1)" font-size="28" fill="#000">C</text>
<text transform="translate(30.9 373.2) rotate(-90)" x="0" y="0" font-size="14" text-anchor="middle" textLength="164.8" lengthAdjust="spacingAndGlyphs" fill="#111">Total distance traveled (m)</text>
<clipPath id="c13"><rect x="433.35" y="341.9" width="33.7" height="120.7"/></clipPath>
<rect x="433.35" y="341.9" width="33.7" height="120.7" fill="#fff"/>
<path clip-path="url(#c13)" d="M309.65 464.6L434.35 339.9M314.15 464.6L438.85 339.9M318.65 464.6L443.35 339.9M323.15 464.6L447.85 339.9M327.65 464.6L452.35 339.9M332.15 464.6L456.85 339.9M336.65 464.6L461.35 339.9M341.15 464.6L465.85 339.9M345.65 464.6L470.35 339.9M350.15 464.6L474.85 339.9M354.65 464.6L479.35 339.9M359.15 464.6L483.85 339.9M363.65 464.6L488.35 339.9M368.15 464.6L492.85 339.9M372.65 464.6L497.35 339.9M377.15 464.6L501.85 339.9M381.65 464.6L506.35 339.9M386.15 464.6L510.85 339.9M390.65 464.6L515.35 339.9M395.15 464.6L519.85 339.9M399.65 464.6L524.35 339.9M404.15 464.6L528.85 339.9M408.65 464.6L533.35 339.9M413.15 464.6L537.85 339.9M417.65 464.6L542.35 339.9M422.15 464.6L546.85 339.9M426.65 464.6L551.35 339.9M431.15 464.6L555.85 339.9M435.65 464.6L560.35 339.9M440.15 464.6L564.85 339.9M444.65 464.6L569.35 339.9M449.15 464.6L573.85 339.9M453.65 464.6L578.35 339.9M458.15 464.6L582.85 339.9M462.65 464.6L587.35 339.9M467.15 464.6L591.85 339.9" stroke="#a0a0a0" stroke-width="1.2" fill="none"/>
<rect x="433.35" y="341.9" width="33.7" height="120.7" fill="none" stroke="#9a9a9a" stroke-width="1.75"/>
<path d="M450.2 341.9L450.2 319.9M441.4 319.9L459 319.9" stroke="#a0a0a0" stroke-width="1.5" fill="none"/>
<clipPath id="c14"><rect x="487.15" y="392.2" width="33.7" height="70.4"/></clipPath>
<rect x="487.15" y="392.2" width="33.7" height="70.4" fill="#fff"/>
<path clip-path="url(#c14)" d="M412.95 390.2L487.35 464.6M417.45 390.2L491.85 464.6M421.95 390.2L496.35 464.6M426.45 390.2L500.85 464.6M430.95 390.2L505.35 464.6M435.45 390.2L509.85 464.6M439.95 390.2L514.35 464.6M444.45 390.2L518.85 464.6M448.95 390.2L523.35 464.6M453.45 390.2L527.85 464.6M457.95 390.2L532.35 464.6M462.45 390.2L536.85 464.6M466.95 390.2L541.35 464.6M471.45 390.2L545.85 464.6M475.95 390.2L550.35 464.6M480.45 390.2L554.85 464.6M484.95 390.2L559.35 464.6M489.45 390.2L563.85 464.6M493.95 390.2L568.35 464.6M498.45 390.2L572.85 464.6M502.95 390.2L577.35 464.6M507.45 390.2L581.85 464.6M511.95 390.2L586.35 464.6M516.45 390.2L590.85 464.6M520.95 390.2L595.35 464.6" stroke="#a0a0a0" stroke-width="1.2" fill="none"/>
<rect x="487.15" y="392.2" width="33.7" height="70.4" fill="none" stroke="#9a9a9a" stroke-width="1.75"/>
<path d="M504 392.2L504 380.6M495.2 380.6L512.8 380.6" stroke="#a0a0a0" stroke-width="1.5" fill="none"/>
<clipPath id="c15"><rect x="576.75" y="346" width="33.7" height="116.6"/></clipPath>
<rect x="576.75" y="346" width="33.7" height="116.6" fill="#fff"/>
<path clip-path="url(#c15)" d="M458.15 464.6L578.75 344M462.65 464.6L583.25 344M467.15 464.6L587.75 344M471.65 464.6L592.25 344M476.15 464.6L596.75 344M480.65 464.6L601.25 344M485.15 464.6L605.75 344M489.65 464.6L610.25 344M494.15 464.6L614.75 344M498.65 464.6L619.25 344M503.15 464.6L623.75 344M507.65 464.6L628.25 344M512.15 464.6L632.75 344M516.65 464.6L637.25 344M521.15 464.6L641.75 344M525.65 464.6L646.25 344M530.15 464.6L650.75 344M534.65 464.6L655.25 344M539.15 464.6L659.75 344M543.65 464.6L664.25 344M548.15 464.6L668.75 344M552.65 464.6L673.25 344M557.15 464.6L677.75 344M561.65 464.6L682.25 344M566.15 464.6L686.75 344M570.65 464.6L691.25 344M575.15 464.6L695.75 344M579.65 464.6L700.25 344M584.15 464.6L704.75 344M588.65 464.6L709.25 344M593.15 464.6L713.75 344M597.65 464.6L718.25 344M602.15 464.6L722.75 344M606.65 464.6L727.25 344M611.15 464.6L731.75 344" stroke="#a0a0a0" stroke-width="1.2" fill="none"/>
<rect x="576.75" y="346" width="33.7" height="116.6" fill="none" stroke="#9a9a9a" stroke-width="1.75"/>
<path d="M593.6 346L593.6 324.3M584.8 324.3L602.4 324.3" stroke="#a0a0a0" stroke-width="1.5" fill="none"/>
<clipPath id="c16"><rect x="630.55" y="416.9" width="33.7" height="45.7"/></clipPath>
<rect x="630.55" y="416.9" width="33.7" height="45.7" fill="#fff"/>
<path clip-path="url(#c16)" d="M581.65 414.9L631.35 464.6M586.15 414.9L635.85 464.6M590.65 414.9L640.35 464.6M595.15 414.9L644.85 464.6M599.65 414.9L649.35 464.6M604.15 414.9L653.85 464.6M608.65 414.9L658.35 464.6M613.15 414.9L662.85 464.6M617.65 414.9L667.35 464.6M622.15 414.9L671.85 464.6M626.65 414.9L676.35 464.6M631.15 414.9L680.85 464.6M635.65 414.9L685.35 464.6M640.15 414.9L689.85 464.6M644.65 414.9L694.35 464.6M649.15 414.9L698.85 464.6M653.65 414.9L703.35 464.6M658.15 414.9L707.85 464.6M662.65 414.9L712.35 464.6" stroke="#a0a0a0" stroke-width="1.2" fill="none"/>
<rect x="630.55" y="416.9" width="33.7" height="45.7" fill="none" stroke="#9a9a9a" stroke-width="1.75"/>
<path d="M647.4 416.9L647.4 406.4M638.6 406.4L656.2 406.4" stroke="#a0a0a0" stroke-width="1.5" fill="none"/>
<path d="M414 282.1L414 462.6" stroke="#000" stroke-width="2" fill="none"/>
<path d="M406.4 462.6L684.7 462.6" stroke="#000" stroke-width="2" fill="none"/>
<path d="M406.4 426.7L415 426.7M406.4 390.8L415 390.8M406.4 354.9L415 354.9M406.4 319L415 319M406.4 283.1L415 283.1M477 462.6L477 470.6M620.5 462.6L620.5 470.6" stroke="#000" stroke-width="2" fill="none"/>
<text x="404.3" y="467.6" font-size="12.4" text-anchor="end" fill="#111">0</text>
<text x="404.3" y="431.7" font-size="12.4" text-anchor="end" fill="#111">5</text>
<text x="404.3" y="395.8" font-size="12.4" text-anchor="end" fill="#111">10</text>
<text x="404.3" y="359.9" font-size="12.4" text-anchor="end" fill="#111">15</text>
<text x="404.3" y="324" font-size="12.4" text-anchor="end" fill="#111">20</text>
<text x="404.3" y="288.1" font-size="12.4" text-anchor="end" fill="#111">25</text>
<text x="477.3" y="486.1" font-size="13" text-anchor="middle" textLength="17.4" lengthAdjust="spacingAndGlyphs" fill="#111">Wt</text>
<text x="595" y="486.1" font-size="13" font-style="italic" fill="#111">Gper1</text>
<text x="632.5" y="479.7" font-size="10" font-style="italic" textLength="13.4" lengthAdjust="spacingAndGlyphs" fill="#111">KO</text>
<circle cx="450.4" cy="302.7" r="2.75" fill="none" stroke="#000" stroke-width="1.8"/>
<circle cx="450.4" cy="322.2" r="2.75" fill="none" stroke="#000" stroke-width="1.8"/>
<circle cx="455.8" cy="330" r="2.75" fill="none" stroke="#000" stroke-width="1.8"/>
<circle cx="444.8" cy="333.8" r="2.75" fill="none" stroke="#000" stroke-width="1.8"/>
<circle cx="455.8" cy="336.9" r="2.75" fill="none" stroke="#000" stroke-width="1.8"/>
<circle cx="450.4" cy="342.6" r="2.75" fill="none" stroke="#000" stroke-width="1.8"/>
<circle cx="444.8" cy="352" r="2.75" fill="none" stroke="#000" stroke-width="1.8"/>
<circle cx="455.8" cy="351.2" r="2.75" fill="none" stroke="#000" stroke-width="1.8"/>
<circle cx="450.4" cy="362" r="2.75" fill="none" stroke="#000" stroke-width="1.8"/>
<circle cx="450.4" cy="375.4" r="2.75" fill="none" stroke="#000" stroke-width="1.8"/>
<rect x="506.6" y="371.1" width="5.4" height="5.4" fill="none" stroke="#000" stroke-width="1.8"/>
<rect x="496" y="376" width="5.4" height="5.4" fill="none" stroke="#000" stroke-width="1.8"/>
<rect x="516.5" y="382.2" width="5.4" height="5.4" fill="none" stroke="#000" stroke-width="1.8"/>
<rect x="485.8" y="386.9" width="5.4" height="5.4" fill="none" stroke="#000" stroke-width="1.8"/>
<rect x="506.6" y="386.9" width="5.4" height="5.4" fill="none" stroke="#000" stroke-width="1.8"/>
<rect x="496" y="390.2" width="5.4" height="5.4" fill="none" stroke="#000" stroke-width="1.8"/>
<rect x="516.5" y="391" width="5.4" height="5.4" fill="none" stroke="#000" stroke-width="1.8"/>
<rect x="496" y="396.1" width="5.4" height="5.4" fill="none" stroke="#000" stroke-width="1.8"/>
<rect x="506.6" y="398.3" width="5.4" height="5.4" fill="none" stroke="#000" stroke-width="1.8"/>
<rect x="501.3" y="407.8" width="5.4" height="5.4" fill="none" stroke="#000" stroke-width="1.8"/>
<circle cx="593.5" cy="310.2" r="2.75" fill="none" stroke="#000" stroke-width="1.8"/>
<circle cx="582.5" cy="333.7" r="2.75" fill="none" stroke="#000" stroke-width="1.8"/>
<circle cx="604.9" cy="328.9" r="2.75" fill="none" stroke="#000" stroke-width="1.8"/>
<circle cx="604.9" cy="334.4" r="2.75" fill="none" stroke="#000" stroke-width="1.8"/>
<circle cx="593.5" cy="338.7" r="2.75" fill="none" stroke="#000" stroke-width="1.8"/>
<circle cx="593.5" cy="346.9" r="2.75" fill="none" stroke="#000" stroke-width="1.8"/>
<circle cx="593.5" cy="353.4" r="2.75" fill="none" stroke="#000" stroke-width="1.8"/>
<circle cx="593.5" cy="360.2" r="2.75" fill="none" stroke="#000" stroke-width="1.8"/>
<circle cx="593.5" cy="372.3" r="2.75" fill="none" stroke="#000" stroke-width="1.8"/>
<circle cx="593.5" cy="379.1" r="2.75" fill="none" stroke="#000" stroke-width="1.8"/>
<rect x="633.9" y="401.1" width="5.4" height="5.4" fill="none" stroke="#000" stroke-width="1.8"/>
<rect x="633.9" y="407.2" width="5.4" height="5.4" fill="none" stroke="#000" stroke-width="1.8"/>
<rect x="656" y="402.3" width="5.4" height="5.4" fill="none" stroke="#000" stroke-width="1.8"/>
<rect x="644.9" y="406.6" width="5.4" height="5.4" fill="none" stroke="#000" stroke-width="1.8"/>
<rect x="656" y="412.1" width="5.4" height="5.4" fill="none" stroke="#000" stroke-width="1.8"/>
<rect x="633.9" y="415.4" width="5.4" height="5.4" fill="none" stroke="#000" stroke-width="1.8"/>
<rect x="644.9" y="415.4" width="5.4" height="5.4" fill="none" stroke="#000" stroke-width="1.8"/>
<rect x="656" y="418.2" width="5.4" height="5.4" fill="none" stroke="#000" stroke-width="1.8"/>
<rect x="650.2" y="425.5" width="5.4" height="5.4" fill="none" stroke="#000" stroke-width="1.8"/>
<rect x="639.4" y="431" width="5.4" height="5.4" fill="none" stroke="#000" stroke-width="1.8"/>
<path d="M449.6 295.9L504.2 295.9" stroke="#000" stroke-width="2" fill="none"/>
<path d="M467.9 290.1L467.9 287.55M467.9 290.1L470.33 289.31M467.9 290.1L469.4 292.16M467.9 290.1L466.4 292.16M467.9 290.1L465.47 289.31" stroke="#000" stroke-width="1.1" stroke-linecap="round" fill="none"/><circle cx="467.9" cy="287.55" r="1.0"/><circle cx="470.33" cy="289.31" r="1.0"/><circle cx="469.4" cy="292.16" r="1.0"/><circle cx="466.4" cy="292.16" r="1.0"/><circle cx="465.47" cy="289.31" r="1.0"/>
<path d="M476.9 290.1L476.9 287.55M476.9 290.1L479.33 289.31M476.9 290.1L478.4 292.16M476.9 290.1L475.4 292.16M476.9 290.1L474.47 289.31" stroke="#000" stroke-width="1.1" stroke-linecap="round" fill="none"/><circle cx="476.9" cy="287.55" r="1.0"/><circle cx="479.33" cy="289.31" r="1.0"/><circle cx="478.4" cy="292.16" r="1.0"/><circle cx="475.4" cy="292.16" r="1.0"/><circle cx="474.47" cy="289.31" r="1.0"/>
<path d="M485.9 290.1L485.9 287.55M485.9 290.1L488.33 289.31M485.9 290.1L487.4 292.16M485.9 290.1L484.4 292.16M485.9 290.1L483.47 289.31" stroke="#000" stroke-width="1.1" stroke-linecap="round" fill="none"/><circle cx="485.9" cy="287.55" r="1.0"/><circle cx="488.33" cy="289.31" r="1.0"/><circle cx="487.4" cy="292.16" r="1.0"/><circle cx="484.4" cy="292.16" r="1.0"/><circle cx="483.47" cy="289.31" r="1.0"/>
<path d="M504.3 286.9L648.2 286.9" stroke="#000" stroke-width="2" fill="none"/>
<path d="M576.25 281.1L576.25 278.55M576.25 281.1L578.68 280.31M576.25 281.1L577.75 283.16M576.25 281.1L574.75 283.16M576.25 281.1L573.82 280.31" stroke="#000" stroke-width="1.1" stroke-linecap="round" fill="none"/><circle cx="576.25" cy="278.55" r="1.0"/><circle cx="578.68" cy="280.31" r="1.0"/><circle cx="577.75" cy="283.16" r="1.0"/><circle cx="574.75" cy="283.16" r="1.0"/><circle cx="573.82" cy="280.31" r="1.0"/>
<path d="M593.6 301.1L648.2 301.1" stroke="#000" stroke-width="2" fill="none"/>
<path d="M611.9 295.3L611.9 292.75M611.9 295.3L614.33 294.51M611.9 295.3L613.4 297.36M611.9 295.3L610.4 297.36M611.9 295.3L609.47 294.51" stroke="#000" stroke-width="1.1" stroke-linecap="round" fill="none"/><circle cx="611.9" cy="292.75" r="1.0"/><circle cx="614.33" cy="294.51" r="1.0"/><circle cx="613.4" cy="297.36" r="1.0"/><circle cx="610.4" cy="297.36" r="1.0"/><circle cx="609.47" cy="294.51" r="1.0"/>
<path d="M620.9 295.3L620.9 292.75M620.9 295.3L623.33 294.51M620.9 295.3L622.4 297.36M620.9 295.3L619.4 297.36M620.9 295.3L618.47 294.51" stroke="#000" stroke-width="1.1" stroke-linecap="round" fill="none"/><circle cx="620.9" cy="292.75" r="1.0"/><circle cx="623.33" cy="294.51" r="1.0"/><circle cx="622.4" cy="297.36" r="1.0"/><circle cx="619.4" cy="297.36" r="1.0"/><circle cx="618.47" cy="294.51" r="1.0"/>
<path d="M629.9 295.3L629.9 292.75M629.9 295.3L632.33 294.51M629.9 295.3L631.4 297.36M629.9 295.3L628.4 297.36M629.9 295.3L627.47 294.51" stroke="#000" stroke-width="1.1" stroke-linecap="round" fill="none"/><circle cx="629.9" cy="292.75" r="1.0"/><circle cx="632.33" cy="294.51" r="1.0"/><circle cx="631.4" cy="297.36" r="1.0"/><circle cx="628.4" cy="297.36" r="1.0"/><circle cx="627.47" cy="294.51" r="1.0"/>
<circle cx="422.9" cy="261.6" r="2.75" fill="none" stroke="#000" stroke-width="1.8"/>
<rect x="420.2" y="274.3" width="5.4" height="5.4" fill="none" stroke="#000" stroke-width="1.8"/>
<text x="443.4" y="266.8" font-size="13.2" textLength="35.4" lengthAdjust="spacingAndGlyphs" fill="#111">Sham</text>
<text x="443.4" y="281.6" font-size="13.2" textLength="19.6" lengthAdjust="spacingAndGlyphs" fill="#111">TBI</text>
<text transform="translate(354.7 270.7) scale(0.902 1)" font-size="28" fill="#000">D</text>
<text transform="translate(380 372.9) rotate(-90)" x="0" y="0" font-size="14" text-anchor="middle" textLength="91.9" lengthAdjust="spacingAndGlyphs" fill="#111">Velocity (cm/s)</text>
</svg></body></html>
